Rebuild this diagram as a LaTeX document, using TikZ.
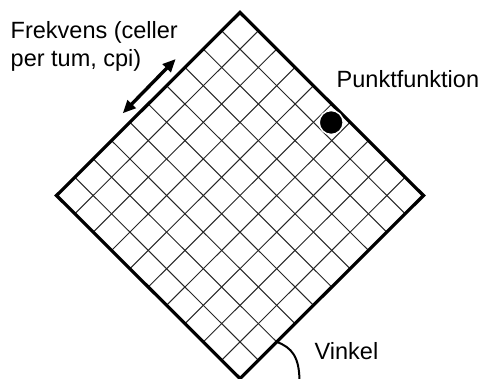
\documentclass[tikz,border=0pt]{standalone}
\usepackage{fontspec}
\setmainfont{Liberation Sans}
\usetikzlibrary{calc,arrows.meta}
\begin{document}
\begin{tikzpicture}[x=1pt,y=-1pt,
  lbl/.style={inner sep=0pt, font=\fontsize{23.5}{28}\selectfont},
  gridline/.style={line width=1pt, black!85},
  border/.style={line width=3.2pt, line join=miter},
  dotstyle/.style={circle, fill=black, draw=white, line width=1.5pt, minimum size=24pt, inner sep=0pt},
  dblarrow/.style={line width=3.4pt, {Triangle[length=13pt,width=11pt]}-{Triangle[length=13pt,width=11pt]}},
  anglecurve/.style={line width=2pt}]
\useasboundingbox (0,0) rectangle (481,378);
\coordinate (T) at (240,12.5);
\coordinate (R) at (423.5,195.5);
\coordinate (B) at (240,378.5);
\coordinate (L) at (56.5,195.5);
\foreach \k in {1,...,9} {
  \draw[gridline] ($(T)!\k/10!(L)$) -- ($(R)!\k/10!(B)$);
  \draw[gridline] ($(T)!\k/10!(R)$) -- ($(L)!\k/10!(B)$);
}
\draw[border] (T) -- (R) -- (B) -- (L) -- cycle;
\node[dotstyle] (dot) at (331.2,122.5) {};
\coordinate (a1) at (122.7,113.3);
\coordinate (a2) at (175.7,59);
\draw[dblarrow] (a1) -- (a2);
\coordinate (v1) at ($(B)!0.2!(R)$);
\coordinate (v2) at (299.5,382);
\draw[anglecurve] (v1) .. controls (292,347.5) and (299.5,357) .. (v2);
\node[lbl, anchor=north west, align=left] (freq) at (10.5,21) {Frekvens (celler\\per tum, cpi)};
\node[lbl, anchor=base west] (punkt) at (336.5,87.3) {Punktfunktion};
\node[lbl, anchor=base west] (vinkel) at (314.5,359.3) {Vinkel};
\end{tikzpicture}
\end{document}
